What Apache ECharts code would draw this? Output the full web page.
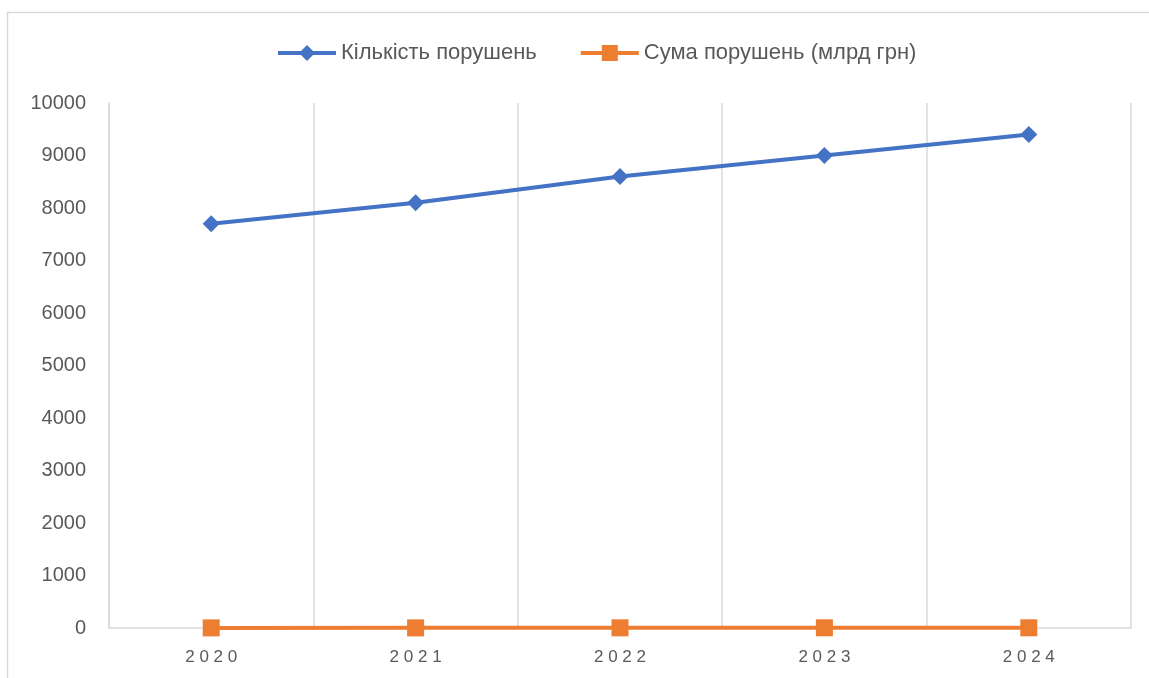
<!DOCTYPE html>
<html>
<head>
<meta charset="utf-8">
<script src="https://cdn.jsdelivr.net/npm/echarts@6/dist/echarts.min.js"></script>
<style>
html, body { margin: 0; padding: 0; background: #fff; }
#chart { width: 1149px; height: 678px; }
</style>
</head>
<body>
<div id="chart"></div>
<script>
const years = ['2020', '2021', '2022', '2023', '2024']
const countValues = [7700, 8100, 8600, 9000, 9400]
const sumValues = [2.1, 2.5, 3.0, 3.4, 3.8]
const seriesNames = ['Кількість порушень', 'Сума порушень (млрд грн)']

const gridColor = '#D9D9D9'
const textColor = '#595959'
const font = 'Liberation Sans, Arial, sans-serif'

const chart = echarts.init(document.getElementById('chart'))
chart.setOption({
  animation: false,
  graphic: [{
    type: 'rect',
    shape: { x: 7.5, y: 12.5, width: 1200, height: 700 },
    style: { fill: 'none', stroke: gridColor, lineWidth: 1.5 },
    silent: true
  }],
  legend: {
    top: 37,
    left: 271,
    itemGap: 42,
    itemWidth: 58,
    itemHeight: 20,
    lineStyle: { width: 4 },
    textStyle: { color: textColor, fontSize: 22, fontFamily: font },
    data: seriesNames
  },
  grid: { left: 109, right: 18, top: 103, bottom: 50 },
  xAxis: {
    type: 'category',
    data: years,
    boundaryGap: true,
    axisLine: { lineStyle: { color: gridColor, width: 1.5 } },
    axisTick: { show: false },
    splitLine: { show: true, lineStyle: { color: gridColor, width: 1.5 } },
    axisLabel: {
      color: textColor,
      fontSize: 17,
      fontFamily: font,
      margin: 21,
      formatter: v => v.split('').join(' ')
    }
  },
  yAxis: {
    type: 'value',
    min: 0,
    max: 10000,
    interval: 1000,
    axisLine: { show: true, lineStyle: { color: gridColor, width: 1.5 } },
    axisTick: { show: false },
    splitLine: { show: false },
    axisLabel: {
      color: textColor,
      fontSize: 20,
      fontFamily: font,
      margin: 23,
      formatter: v => String(v)
    }
  },
  series: [
    {
      name: seriesNames[0],
      type: 'line',
      data: countValues,
      symbol: 'diamond',
      symbolSize: 17,
      color: '#4472C4',
      lineStyle: { width: 4, color: '#4472C4' }
    },
    {
      name: seriesNames[1],
      type: 'line',
      data: sumValues,
      symbol: 'rect',
      symbolSize: 17,
      color: '#ED7D31',
      lineStyle: { width: 4, color: '#ED7D31' }
    }
  ]
})
</script>
</body>
</html>
